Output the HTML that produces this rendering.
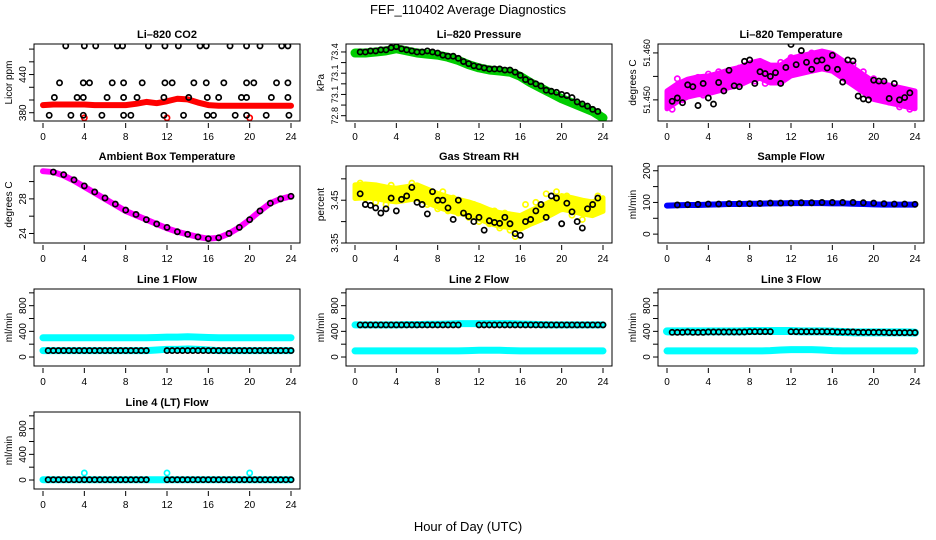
<!DOCTYPE html>
<html><head><meta charset="utf-8">
<style>
html,body{margin:0;padding:0;background:#fff;}
svg{display:block;font-family:"Liberation Sans",sans-serif;}
</style></head>
<body>
<svg id="c" width="936" height="540" viewBox="0 0 936 540">
<text x="468" y="14" text-anchor="middle" font-size="13">FEF_110402  Average Diagnostics</text>
<text x="468" y="531" text-anchor="middle" font-size="13">Hour of Day (UTC)</text>
</svg>
<script>
// ---------- data ----------
const HOURS = [0,1,2,3,4,5,6,7,8,9,10,11,12,13,14,15,16,17,18,19,20,21,22,23,24];
const HALF = [0.5,1,1.5,2,2.5,3,3.5,4,4.5,5,5.5,6,6.5,7,7.5,8,8.5,9,9.5,10,10.5,11,11.5,12,12.5,13,13.5,14,14.5,15,15.5,16,16.5,17,17.5,18,18.5,19,19.5,20,20.5,21,21.5,22,22.5,23,23.5];
const X_TICKS = [0,4,8,12,16,20,24];

// Li-820 CO2
const co2Red = [392,393,393,393,393,392,392,392,392,394,397,395,398,402,401,396,392,391,391,391,391,391,391,391,391];
const co2RedOutH = [4,12,20];
const co2RedOutV = [372,372,372];
const co2BlackH = [2.2,4.0,5.1,7.2,7.7,10.2,11.8,13.1,15.2,15.8,18.1,19.7,21.0,23.1,23.7,
  1.6,3.9,4.5,6.7,7.8,9.6,11.8,12.5,14.6,15.8,17.5,19.7,20.4,22.6,23.7,
  1.1,3.3,3.9,6.2,7.8,9.1,11.7,14.1,15.9,17.0,19.2,19.7,22.1,23.7,
  0.6,2.7,3.9,5.7,7.8,8.5,11.7,13.6,15.9,16.5,18.6,19.7,21.6,23.8];
const co2BlackV = [485,485,485,485,485,485,485,485,485,485,485,485,485,485,485,
  427,427,427,427,427,427,427,427,427,427,427,427,427,427,427,
  404,404,404,404,404,404,404,404,404,404,404,404,404,404,
  376,376,376,376,376,376,376,376,376,376,376,376,376,376];

// Li-820 Pressure
const presGreen = [73.39,73.39,73.40,73.41,73.43,73.41,73.39,73.38,73.37,73.35,73.32,73.28,73.25,73.23,73.22,73.21,73.17,73.11,73.06,73.01,72.96,72.92,72.88,72.84,72.78];
const presBlack = [73.40,73.40,73.41,73.41,73.42,73.42,73.44,73.45,73.43,73.42,73.41,73.40,73.40,73.41,73.40,73.39,73.37,73.36,73.36,73.34,73.31,73.29,73.27,73.26,73.25,73.24,73.24,73.24,73.23,73.23,73.21,73.18,73.14,73.12,73.10,73.08,73.04,73.03,73.02,73.00,72.99,72.97,72.93,72.91,72.89,72.86,72.84];

// Li-820 Temperature
const tempMag = [51.4500,51.4515,51.4525,51.4530,51.4532,51.4538,51.4545,51.4550,51.4560,51.4565,51.4555,51.4555,51.4570,51.4575,51.4580,51.4585,51.4580,51.4565,51.4550,51.4535,51.4520,51.4515,51.4510,51.4505,51.4500];
const tempMagPts = [51.4480,51.4545,51.4500,51.4540,51.4525,51.4548,51.4510,51.4555,51.4530,51.4560,51.4520,51.4555,51.4540,51.4568,51.4545,51.4575,51.4540,51.4570,51.4535,51.4565,51.4545,51.4580,51.4560,51.4590,51.4565,51.4595,51.4575,51.4600,51.4570,51.4597,51.4580,51.4590,51.4560,51.4575,51.4545,51.4575,51.4530,51.4560,51.4520,51.4545,51.4510,51.4535,51.4495,51.4525,51.4485,51.4520,51.4480];
const tempBlack = [51.4497,51.4504,51.4494,51.4532,51.4528,51.4488,51.4535,51.4504,51.4491,51.4537,51.4519,51.4563,51.4530,51.4528,51.4582,51.4585,51.4535,51.4560,51.4556,51.4550,51.4558,51.4535,51.4569,51.4618,51.4575,51.4605,51.4580,51.4565,51.4583,51.4585,51.4568,51.4595,51.4565,51.4538,51.4585,51.4583,51.4508,51.4502,51.4500,51.4542,51.4540,51.4540,51.4503,51.4535,51.4500,51.4505,51.4515];

// Ambient Box Temperature
const ambMag = [31.2,31.1,30.7,30.1,29.4,28.7,28.0,27.3,26.6,26.1,25.6,25.1,24.6,24.2,23.9,23.6,23.4,23.5,24.0,24.7,25.6,26.6,27.5,28.0,28.3];
const ambBlack = [31.1,30.8,30.2,29.5,28.8,28.1,27.4,26.7,26.2,25.6,25.1,24.7,24.2,23.9,23.6,23.4,23.5,24.0,24.7,25.6,26.6,27.5,28.0,28.3];

// Gas Stream RH
const rhYellow = [3.470,3.472,3.470,3.465,3.462,3.466,3.470,3.460,3.450,3.442,3.436,3.430,3.422,3.412,3.405,3.402,3.398,3.410,3.420,3.432,3.445,3.440,3.434,3.430,3.440];
const rhYellowPts = [3.490,3.455,3.480,3.445,3.470,3.440,3.485,3.450,3.475,3.455,3.490,3.460,3.470,3.440,3.465,3.430,3.470,3.425,3.455,3.420,3.445,3.410,3.440,3.400,3.430,3.395,3.425,3.385,3.420,3.380,3.365,3.410,3.440,3.400,3.445,3.415,3.465,3.425,3.470,3.430,3.460,3.415,3.450,3.405,3.445,3.420,3.460];
const rhBlack = [3.465,3.440,3.438,3.432,3.420,3.430,3.455,3.425,3.452,3.460,3.480,3.445,3.440,3.418,3.470,3.450,3.450,3.432,3.405,3.450,3.420,3.412,3.400,3.410,3.380,3.402,3.398,3.396,3.410,3.395,3.372,3.368,3.400,3.405,3.425,3.440,3.410,3.460,3.455,3.395,3.443,3.423,3.400,3.385,3.430,3.440,3.455];

// Sample Flow
const sampBlue = [90,91,92,92,93,94,95,95,96,96,97,97,98,98,98,98,97,97,96,95,94,93,93,93,93];
const sampBlack = [92,93,94,95,95,96,96,96,97,98,98,98,99,99,100,100,100,100,99,98,96,95,95,94];

// Line flows (cyan upper/lower bands, black)
const l1CyanHi = [300,300,300,300,300,300,300,300,300,300,300,305,310,310,315,310,305,300,300,300,300,300,300,300,300];
const l1CyanLo = [100,100,100,100,100,100,100,100,100,100,100,110,120,120,125,120,110,100,100,100,100,100,100,100,100];
const l1BlackH = [0.5,1,1.5,2,2.5,3,3.5,4,4.5,5,5.5,6,6.5,7,7.5,8,8.5,9,9.5,10,12,12.5,13,13.5,14,14.5,15,15.5,16,16.5,17,17.5,18,18.5,19,19.5,20,20.5,21,21.5,22,22.5,23,23.5,24];
const l1BlackV = [100,100,100,100,100,100,100,100,100,100,100,100,100,100,100,100,100,100,100,100,100,100,100,100,100,100,100,100,100,100,100,100,100,100,100,100,100,100,100,100,100,100,100,100,100];

const l2CyanHi = [500,500,500,500,500,505,505,510,510,515,520,520,520,520,520,520,515,510,505,500,500,500,500,500,500];
const l2CyanLo = [95,95,95,95,95,95,95,95,95,95,95,100,105,105,105,100,95,95,95,95,95,95,95,95,95];
const l2BlackV = [500,500,500,500,500,500,500,500,500,500,500,500,500,500,500,500,500,500,500,500,500,500,500,500,500,500,500,500,500,500,500,500,500,500,500,500,500,500,500,500,500,500,500,500,500];

const l3CyanHi = [400,400,400,400,400,400,400,400,405,405,405,405,405,400,400,400,395,390,385,385,385,385,385,385,380];
const l3CyanLo = [95,95,95,95,95,95,95,95,95,95,100,110,115,115,115,110,100,95,95,95,95,95,95,95,95];
const l3BlackV = [385,385,385,390,385,385,385,390,390,390,390,390,390,390,390,395,395,395,395,395,395,395,395,395,395,395,395,395,395,390,390,390,390,385,385,385,385,385,385,380,380,380,380,380,380,380,380];

const l4Cyan = [5,5,5,5,5,5,5,5,5,5,5,5,5,5,5,5,5,5,5,5,5,5,5,5,5];
const l4CyanOutH = [4,12,20];
const l4CyanOutV = [110,110,110];
const l4BlackV = [5,5,5,5,5,5,5,5,5,5,5,5,5,5,5,5,5,5,5,5,5,5,5,5,5,5,5,5,5,5,5,5,5,5,5,5,5,5,5,5,5,5,5,5,5];

// ---------- drawing ----------
const NS = 'http://www.w3.org/2000/svg';
const svg = document.getElementById('c');
function mk(tag, parent){const e=document.createElementNS(NS,tag);parent.appendChild(e);return e;}

const COLS = [34, 346, 658];
const ROWS = [44, 166, 289, 412];
const W = 266, H = 77;

function makePanel(col,row,name,title,ylab,vmin,vmax,yticks,ylabels,fs){
  fs = fs || 10;
  const L=COLS[col], T=ROWS[row];
  const g=mk('g',svg);
  
  
  const xs=h=>L+9+h*(248/24);
  const ys=v=>T+H-(v-vmin)/(vmax-vmin)*H;
  const t=mk('text',g);
  
  
  t.setAttribute('x',L+W/2);t.setAttribute('y',T-6);t.setAttribute('text-anchor','middle');
  t.setAttribute('font-size','11');t.setAttribute('font-weight','bold');t.textContent=title;
  const yl=mk('text',g);
  
  
  const yx=L-22, yy=T+H/2;
  yl.setAttribute('transform',`translate(${yx},${yy}) rotate(-90)`);
  yl.setAttribute('text-anchor','middle');yl.setAttribute('font-size','10');yl.textContent=ylab;
  // x axis
  const xa=mk('g',g);
  
  
  X_TICKS.forEach(h=>{
    const tk=mk('line',xa);
    tk.setAttribute('x1',xs(h));tk.setAttribute('x2',xs(h));tk.setAttribute('y1',T+H+2);tk.setAttribute('y2',T+H+7);tk.setAttribute('stroke','#000');
    const lb=mk('text',xa);
    
    
    lb.setAttribute('x',xs(h));lb.setAttribute('y',T+H+19);lb.setAttribute('text-anchor','middle');lb.setAttribute('font-size','10');lb.textContent=h;
  });
  // y axis
  const ya=mk('g',g);
  
  
  yticks.forEach((v,i)=>{
    const tk=mk('line',ya);
    tk.setAttribute('x1',L-5);tk.setAttribute('x2',L);tk.setAttribute('y1',ys(v));tk.setAttribute('y2',ys(v));tk.setAttribute('stroke','#000');
    if(ylabels[i]){
      const lb=mk('text',ya);
      
      
      lb.setAttribute('transform',`translate(${L-8},${ys(v)}) rotate(-90)`);
      lb.setAttribute('text-anchor','middle');lb.setAttribute('font-size',fs);lb.textContent=ylabels[i];
    }
  });
  const cid='clip'+col+row;
  const cp=mk('clipPath',g);cp.setAttribute('id',cid);
  const cr=mk('rect',cp);cr.setAttribute('x',L);cr.setAttribute('y',T);cr.setAttribute('width',W);cr.setAttribute('height',H);
  const plot=mk('g',g);plot.setAttribute('clip-path',`url(#${cid})`);
  const box=mk('rect',g);
  
  
  box.setAttribute('x',L);box.setAttribute('y',T);box.setAttribute('width',W);box.setAttribute('height',H);
  box.setAttribute('fill','none');box.setAttribute('stroke','#000');
  return {plot,xs,ys};
}

function band(p,hours,vals,color,width,nm){
  const pl=mk('polyline',p.plot);
  
  
  pl.setAttribute('points',hours.map((h,i)=>p.xs(h)+','+p.ys(vals[i])).join(' '));
  pl.setAttribute('fill','none');pl.setAttribute('stroke',color);pl.setAttribute('stroke-width',width);
  pl.setAttribute('stroke-linejoin','round');pl.setAttribute('stroke-linecap','round');
}
function bandArea(p,hours,vals,spread,color,nm){
  const top=hours.map((h,i)=>p.xs(h)+','+p.ys(vals[i]+spread));
  const bot=hours.map((h,i)=>p.xs(h)+','+p.ys(vals[i]-spread)).reverse();
  const pg=mk('polygon',p.plot);
  
  
  pg.setAttribute('points',top.concat(bot).join(' '));
  pg.setAttribute('fill',color);pg.setAttribute('stroke',color);pg.setAttribute('stroke-width','5');pg.setAttribute('stroke-linejoin','round');
}
function pts(p,hours,vals,color,nm,r){
  hours.forEach((h,i)=>{
    const c=mk('circle',p.plot);
    
    
    c.setAttribute('cx',p.xs(h));c.setAttribute('cy',p.ys(vals[i]));c.setAttribute('r',r||2.6);
    c.setAttribute('fill','none');c.setAttribute('stroke',color);c.setAttribute('stroke-width','1.7');
  });
}

// Panel 1: CO2
let p=makePanel(0,0,'co2','Li\u2013820 CO2','Licor ppm',367,488,[380,400,420,440,460,480],['380','','','440','','']);
band(p,HOURS,co2Red,'#ff0000',6,'co2-band');
pts(p,co2RedOutH,co2RedOutV,'#ff0000','co2-outlier');
pts(p,co2BlackH,co2BlackV,'#000','co2-point');

// Panel 2: Pressure
p=makePanel(1,0,'pressure','Li\u2013820 Pressure','kPa',72.75,73.475,[72.8,72.9,73.0,73.1,73.2,73.3,73.4],['72.8','','73.1','','73.1','','73.4'],9);
band(p,HOURS,presGreen,'#00cc00',9,'pressure-band');
pts(p,HALF,presBlack,'#000','pressure-point');

// Panel 3: Li-820 Temperature
p=makePanel(2,0,'li820-temp','Li\u2013820 Temperature','degrees C',51.4455,51.4619,[51.450,51.455,51.460],['51.450','','51.460'],9);
bandArea(p,HOURS,tempMag,0.0019,'#ff00ff','li820-temp-band');
pts(p,HALF,tempMagPts,'#ff00ff','li820-temp-scatter');
pts(p,HALF,tempBlack,'#000','li820-temp-point');

// Panel 4: Ambient
p=makePanel(0,1,'ambient-temp','Ambient Box Temperature','degrees C',22.9,31.8,[24,26,28,30],['24','','28','']);
band(p,HOURS,ambMag,'#ff00ff',6,'ambient-band');
pts(p,HOURS.slice(1),ambBlack,'#000','ambient-point');

// Panel 5: RH
p=makePanel(1,1,'rh','Gas Stream RH','percent',3.35,3.53,[3.35,3.40,3.45,3.50],['3.35','','3.45','']);
bandArea(p,HOURS,rhYellow,0.016,'#ffff00','rh-band');
pts(p,HALF,rhYellowPts,'#ffff00','rh-scatter');
pts(p,HALF,rhBlack,'#000','rh-point');

// Panel 6: Sample flow
p=makePanel(2,1,'sample-flow','Sample Flow','ml/min',-28,215,[0,50,100,150,200],['0','','100','','200']);
band(p,HOURS,sampBlue,'#0000ff',6,'sample-band');
pts(p,HOURS.slice(1),sampBlack,'#000','sample-point');

const FT=[0,200,400,600,800,1000], FL=['0','','400','','800',''];
// Panel 7: Line1
p=makePanel(0,2,'line1','Line 1 Flow','ml/min',-140,1060,FT,FL);
band(p,HOURS,l1CyanHi,'#00ffff',7,'line1-band-high');
band(p,HOURS,l1CyanLo,'#00ffff',7,'line1-band-low');
pts(p,l1BlackH,l1BlackV,'#000','line1-point');

// Panel 8: Line2
p=makePanel(1,2,'line2','Line 2 Flow','ml/min',-140,1060,FT,FL);
band(p,HOURS,l2CyanHi,'#00ffff',7,'line2-band-high');
band(p,HOURS,l2CyanLo,'#00ffff',7,'line2-band-low');
pts(p,l1BlackH,l2BlackV,'#000','line2-point');

// Panel 9: Line3
p=makePanel(2,2,'line3','Line 3 Flow','ml/min',-140,1060,FT,FL);
band(p,HOURS,l3CyanHi,'#00ffff',8,'line3-band-high');
band(p,HOURS,l3CyanLo,'#00ffff',7,'line3-band-low');
pts(p,l1BlackH,l3BlackV,'#000','line3-point');

// Panel 10: Line4
p=makePanel(0,3,'line4','Line 4 (LT) Flow','ml/min',-140,1060,FT,FL);
band(p,HOURS,l4Cyan,'#00ffff',7,'line4-band');
pts(p,l4CyanOutH,l4CyanOutV,'#00ffff','line4-outlier');
pts(p,l1BlackH,l4BlackV,'#000','line4-point');
</script>
</body></html>
